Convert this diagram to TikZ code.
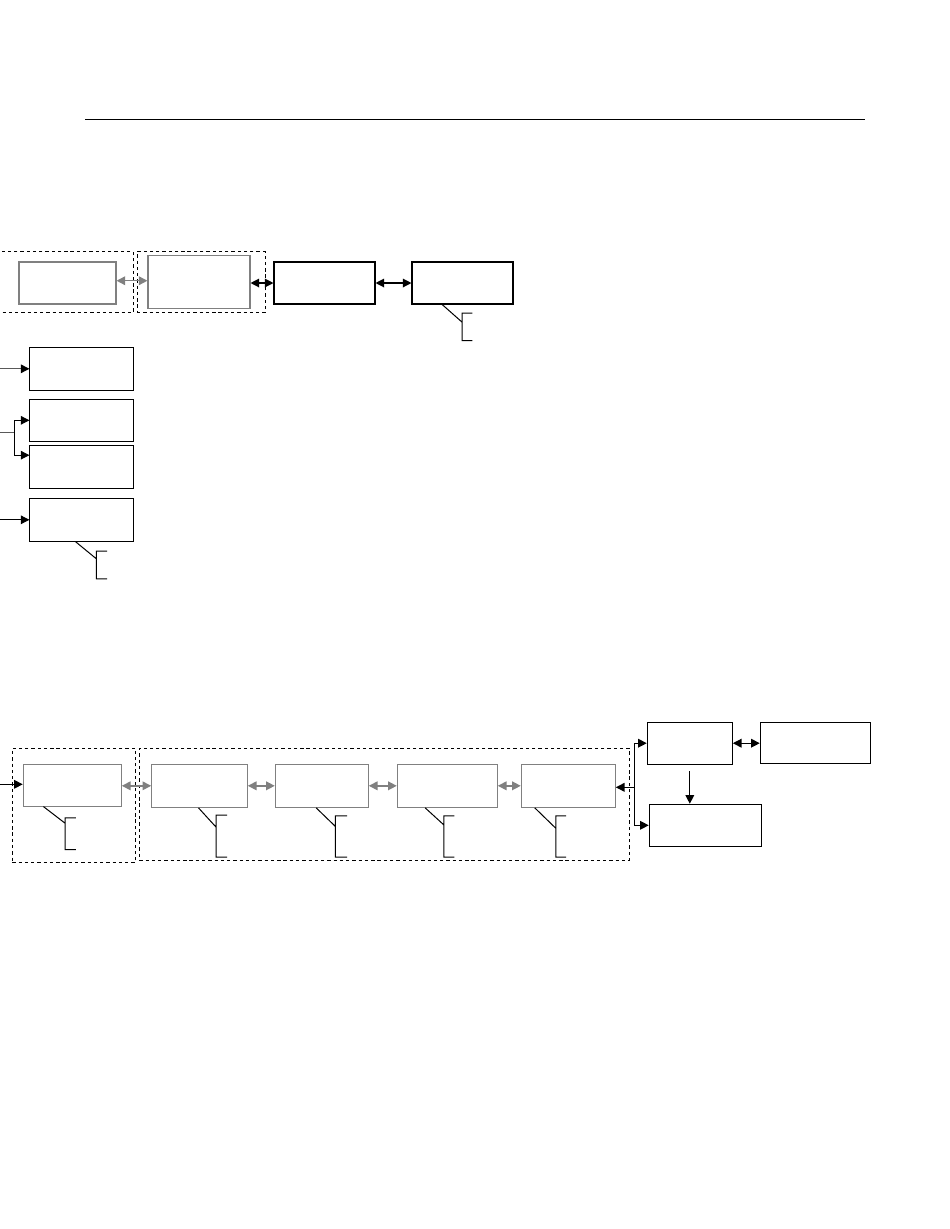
\documentclass[tikz,border=0pt]{standalone}
\usetikzlibrary{arrows.meta}
\tikzset{
	blk/.style={draw=black, line width=0.8pt, inner sep=0pt},
	gblk/.style={draw=black!50, line width=0.8pt, inner sep=0pt},
	sz/.style 2 args={minimum width=#1*0.75pt, minimum height=#2*0.75pt},
	grp/.style={draw=black, line width=0.75pt, dash pattern=on 2.5pt off 2.2pt, inner sep=0pt},
	tip/.style={-{Triangle[length=6.5pt,width=6.5pt,color=black]}},
	dtip/.style={{Triangle[length=6.5pt,width=6.5pt]}-{Triangle[length=6.5pt,width=6.5pt]}},
	glink/.style={dtip, draw=black!50, line width=1.1pt},
	blink/.style={dtip, line width=0.9pt},
	callout/.style={line width=0.75pt}
}
\begin{document}
\begin{tikzpicture}[x=0.75pt, y=-0.75pt, line width=0.75pt]
		\useasboundingbox (0,0) rectangle (950,1229);
		%
		\draw[line width=1pt] (85,119.5) -- (865,119.5);
		%
		% upper chain
		\node[grp, sz={143}{61}] (grpA) at (61.5,282.2) {};
		\node[grp, sz={128}{61}] (grpB) at (201,282.2) {};
		\node[gblk, sz={97}{42}] (A) at (67.5,283) {};
		\node[gblk, sz={102}{53}] (B) at (199,282.3) {};
		\node[blk, sz={101}{42}] (C) at (324.5,283) {};
		\node[blk, sz={101}{42}] (D) at (462.5,283) {};
		%
		\draw[glink] ([yshift=1.7pt]A.east) -- ([yshift=1.7pt]A.east -| B.west);
		\draw[blink] (B.east |- C.west) -- (C.west);
		\draw[blink] (C.east) -- (D.west);
		\draw[callout] (D.south west) ++(30.7,0) -- ++(20,17.7) ++(10.3,-9) -- ++(-10.3,0) -- ++(0,27.3) -- ++(10.3,0);
		%
		% left column
		\node[blk, sz={103.7}{43}] (E) at (81.8,368.8) {};
		\node[blk, sz={103.7}{42}] (F) at (81.8,420.3) {};
		\node[blk, sz={103.7}{43}] (G) at (81.8,466.8) {};
		\node[blk, sz={103.7}{43}] (H) at (81.8,519.8) {};
		%
		\coordinate (inE) at (0,368.8);
		\coordinate (inFG) at (0,432.7);
		\coordinate (forkFG) at (14.3,432.7);
		\coordinate (inH) at (0,519.8);
		\draw[tip, draw=black!65, line width=0.9pt] (inE) -- (E.west);
		\draw[draw=black!65, line width=0.9pt] (inFG) -- (forkFG);
		\draw[tip] (forkFG) |- (F.west);
		\draw[tip] (forkFG) |- ([yshift=-7.8pt]G.north west);
		\draw[tip] (inH) -- (H.west);
		\draw[callout] (H.south west) ++(46.3,0) -- ++(20.7,17) ++(10.6,-7.6) -- ++(-10.6,0) -- ++(0,27.6) -- ++(10.6,0);
		%
		% lower chain
		\node[grp, sz={123.4}{114}] (grpI) at (74,805.3) {};
		\node[grp, sz={490}{111.7}] (grpJ) at (384.3,804.2) {};
		\node[gblk, sz={98}{41.7}] (I) at (72.3,785.2) {};
		\node[gblk, sz={95.6}{43}] (J) at (199.5,785.8) {};
		\node[gblk, sz={93}{43}] (K) at (321.8,785.8) {};
		\node[gblk, sz={100}{43}] (L) at (447.3,785.8) {};
		\node[gblk, sz={94}{43}] (M) at (568.3,785.8) {};
		%
		\coordinate (inI) at (0,784.3);
		\draw[tip] (inI) -- (inI -| I.west);
		\draw[glink] (I.east |- J.west) -- (J.west);
		\draw[glink] (J.east) -- (K.west);
		\draw[glink] (K.east) -- (L.west);
		\draw[glink] (L.east) -- (M.west);
		%
		\draw[callout] (I.south west) ++(20.7,0) -- ++(21.7,16.7) ++(10.6,-5.4) -- ++(-10.6,0) -- ++(0,31.7) -- ++(10.6,0);
		\draw[callout] (J.south west) ++(47.3,0) -- ++(17.7,19.4) ++(11,-12) -- ++(-11,0) -- ++(0,42) -- ++(11,0);
		\draw[callout] (K.south west) ++(41.4,0) -- ++(19.3,18.7) ++(11.7,-10.7) -- ++(-11.7,0) -- ++(0,41.4) -- ++(11.7,0);
		\draw[callout] (L.south west) ++(28.4,0) -- ++(18.6,17) ++(10.7,-9) -- ++(-10.7,0) -- ++(0,41.4) -- ++(10.7,0);
		\draw[callout] (M.south west) ++(14,0) -- ++(21,20.4) ++(10.4,-12.4) -- ++(-10.4,0) -- ++(0,41.4) -- ++(10.4,0);
		%
		% right group
		\node[blk, sz={85}{41.7}] (N) at (689.8,743.2) {};
		\node[blk, sz={110}{41}] (O) at (815.3,742.8) {};
		\node[blk, sz={112.4}{42}] (P) at (705.5,825.3) {};
		%
		\coordinate (forkM) at (634.3,787.3);
		\draw[tip, line width=0.9pt] (forkM) -- (forkM -| M.east);
		\draw[tip, line width=0.9pt] (forkM) |- (N.west);
		\draw[tip, line width=0.9pt] (forkM) |- (P.west);
		\draw[blink] (N.east) -- (N.east -| O.west);
		\draw[tip, line width=0.9pt] ([yshift=-5pt]N.south) -- (N.south |- P.north);
	\end{tikzpicture}
\end{document}
